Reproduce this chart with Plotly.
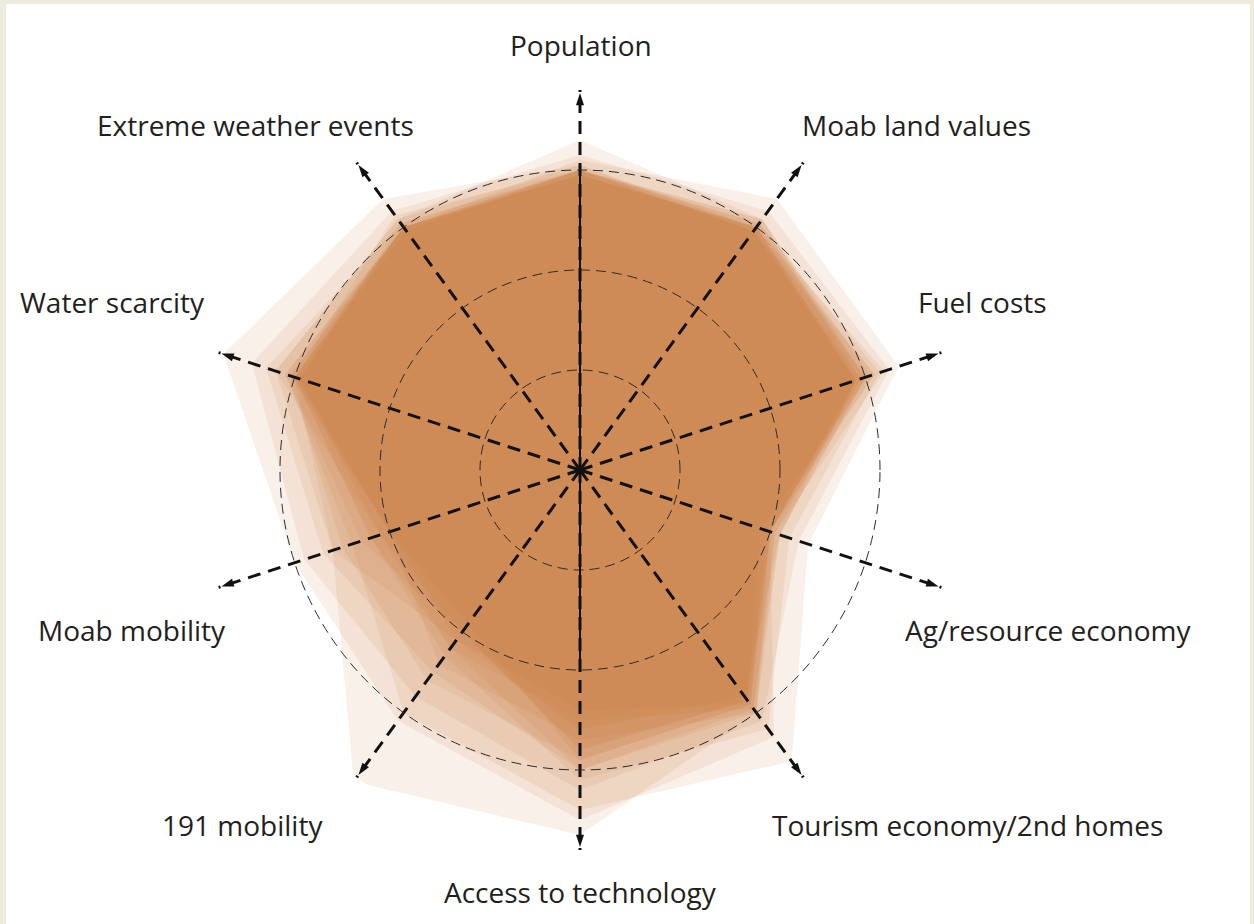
import plotly.graph_objects as go

# ---- data -------------------------------------------------------------
axis_labels = ["Population", "Moab land values", "Fuel costs", "Ag/resource economy",
               "Tourism economy/2nd homes", "Access to technology", "191 mobility",
               "Moab mobility", "Water scarcity", "Extreme weather events"]
axis_angles = [0, 36, 72, 108, 144, 180, 216, 252, 288, 324]

# one list per scenario polygon, values in axis order above
scenario_01 = [3.30, 3.10, 3.00, 2.10, 3.00, 3.65, 3.85, 2.60, 3.20, 3.10]
scenario_02 = [3.10, 3.35, 3.35, 2.40, 3.60, 3.40, 3.00, 2.40, 3.10, 3.00]
scenario_03 = [3.05, 3.00, 3.10, 2.00, 3.30, 3.50, 3.10, 3.00, 3.75, 3.35]
scenario_04 = [3.15, 3.20, 3.25, 2.30, 3.10, 3.20, 2.80, 2.90, 3.45, 3.20]
scenario_05 = [3.00, 3.10, 2.95, 2.05, 3.00, 3.00, 2.50, 2.70, 3.30, 3.05]
scenario_06 = [3.00, 3.05, 3.15, 2.20, 3.20, 3.10, 2.30, 2.20, 3.00, 3.15]
scenario_07 = [2.95, 3.00, 3.00, 2.00, 2.90, 2.90, 2.60, 2.50, 3.05, 3.00]
scenario_08 = [3.05, 2.95, 2.90, 2.10, 2.95, 3.00, 2.20, 2.10, 3.20, 3.10]
scenario_09 = [3.00, 3.10, 3.05, 1.90, 2.85, 2.80, 2.00, 2.30, 3.10, 3.00]
scenario_10 = [2.95, 3.00, 2.90, 2.00, 3.00, 2.70, 2.40, 2.00, 2.95, 3.00]
scenario_11 = [3.00, 3.05, 3.00, 2.10, 2.80, 2.60, 2.10, 2.60, 3.00, 2.95]
scenario_12 = [3.00, 2.95, 2.95, 2.00, 2.90, 2.90, 1.90, 2.00, 3.05, 3.00]
scenario_13 = [2.95, 3.00, 3.20, 2.05, 2.95, 2.50, 2.20, 2.20, 3.00, 3.00]
scenario_14 = [3.00, 3.00, 2.90, 2.00, 2.85, 2.80, 2.00, 2.10, 2.95, 3.05]
scenario_15 = [3.00, 2.95, 3.10, 1.95, 2.90, 2.40, 2.10, 2.00, 3.00, 3.00]
scenarios = [scenario_01, scenario_02, scenario_03, scenario_04, scenario_05,
             scenario_06, scenario_07, scenario_08, scenario_09, scenario_10,
             scenario_11, scenario_12, scenario_13, scenario_14, scenario_15]

ring_values = [1, 2, 3]

# ---- layout helpers (positions / styles) --------------------------------
W, H = 1254, 924
label_x_px = [581, 916, 982, 1048, 967, 580, 242, 132, 113, 255]
label_y_px = [45, 125, 302, 630, 825, 892, 825, 630, 302, 125]
R_MAX = 3.8
cx, cy, rad = 580, 470, 380  # pixel centre and radius of polar area

dom_x = [(cx - rad) / W, (cx + rad) / W]
dom_y = [(H - cy - rad) / H, (H - cy + rad) / H]

fill_col = "rgba(198,118,59,0.11)"

fig = go.Figure()

for vals in scenarios:
    fig.add_trace(go.Scatterpolar(
        r=vals + [vals[0]], theta=axis_angles + [axis_angles[0]],
        mode="lines", fill="toself", fillcolor=fill_col,
        line=dict(width=0, color="rgba(0,0,0,0)"),
        hoverinfo="skip", showlegend=False, subplot="polar"))

# solid vertical line through centre
fig.add_trace(go.Scatterpolar(
    r=[3.0, 0, 2.0], theta=[0, 0, 180], mode="lines",
    line=dict(color="#111", width=2), hoverinfo="skip",
    showlegend=False, subplot="polar2"))

# arrow heads
fig.add_trace(go.Scatterpolar(
    r=[3.77] * len(axis_angles), theta=axis_angles, mode="markers",
    marker=dict(symbol="arrow", size=13, color="#111", angle=axis_angles),
    cliponaxis=False, hoverinfo="skip", showlegend=False, subplot="polar2"))

annotations = [
    dict(text=lab, x=px / W, y=1 - py / H, xref="paper", yref="paper",
         xanchor="center", yanchor="middle", showarrow=False,
         font=dict(family="Open Sans", size=28, color="#231f20"))
    for lab, px, py in zip(axis_labels, label_x_px, label_y_px)
]

fig.update_layout(
    width=W, height=H,
    margin=dict(l=0, r=0, t=0, b=0),
    paper_bgcolor="#EDEBDB",
    plot_bgcolor="white",
    shapes=[dict(type="rect", xref="paper", yref="paper",
                 x0=6 / W, x1=(W - 4) / W, y0=0, y1=(H - 4) / H,
                 fillcolor="white", line=dict(width=0), layer="below")],
    annotations=annotations,
    polar=dict(
        domain=dict(x=dom_x, y=dom_y),
        bgcolor="rgba(0,0,0,0)",
        radialaxis=dict(range=[0, R_MAX], visible=False),
        angularaxis=dict(direction="clockwise", rotation=90, visible=False),
    ),
    polar2=dict(
        domain=dict(x=dom_x, y=dom_y),
        bgcolor="rgba(0,0,0,0)",
        radialaxis=dict(range=[0, R_MAX], tickvals=ring_values,
                        showticklabels=False, ticks="", showline=False,
                        showgrid=True, gridcolor="#2a2a2a", gridwidth=1.4,
                        griddash="10px,6px"),
        angularaxis=dict(direction="clockwise", rotation=90,
                         tickvals=axis_angles, showticklabels=False, ticks="",
                         showline=False, showgrid=True, gridcolor="#111",
                         gridwidth=2.6, griddash="13px,8px"),
    ),
    showlegend=False,
)

fig.write_html("out.html",
               config={"displayModeBar": False},
               post_script="document.body.style.margin='0px';")
